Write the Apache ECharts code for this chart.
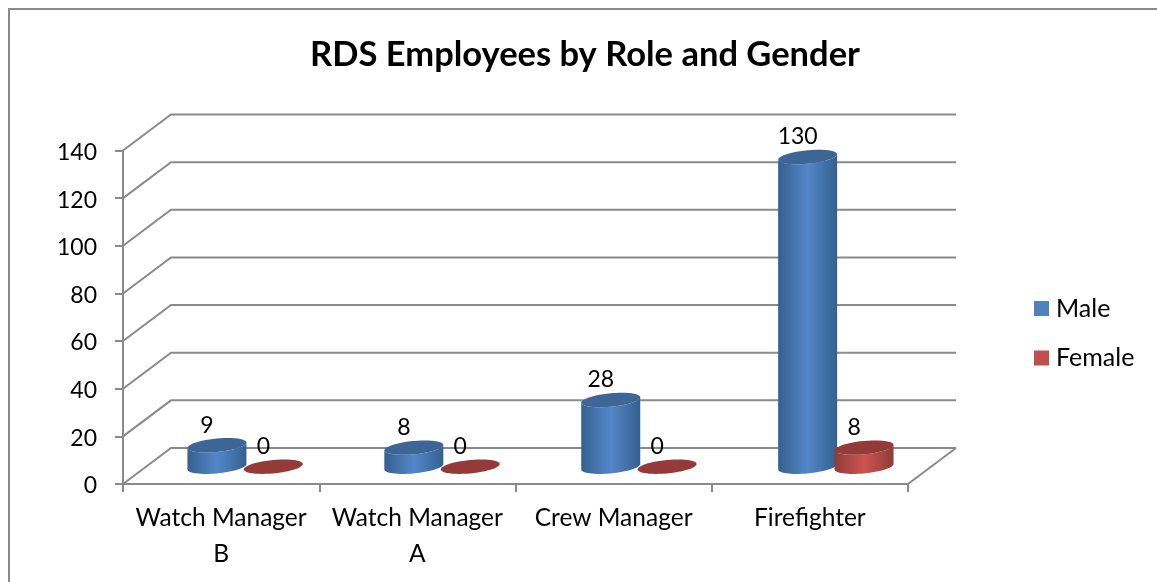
<!DOCTYPE html>
<html><head><meta charset="utf-8">
<style>html,body{margin:0;padding:0;background:#fff}#c{width:1157px;height:582px}</style>
<script src="https://cdn.jsdelivr.net/npm/echarts@6/dist/echarts.min.js"></script>
</head><body><div id="c"></div>
<script>
const categories = ['Watch Manager\nB', 'Watch Manager\nA', 'Crew Manager', 'Firefighter'];
const male = [9, 8, 28, 130];
const female = [0, 0, 0, 8];
const yTicks = [0, 20, 40, 60, 80, 100, 120, 140];

const FONT = 'Lato';
const DX = 48, DY = 36;          // depth of the floor, in pixels
const HALF_DX = 24, HALF_DY = 17.3;
const RX = 29.5, RY = 6.7, SKEW = 2.7;

function ellipsePts(cx, cy, from, to, n) {
  const pts = [];
  for (let i = 0; i <= n; i++) {
    const t = from + (to - from) * i / n;
    pts.push([cx + RX * Math.cos(t), cy + RY * Math.sin(t) - SKEW * Math.cos(t)]);
  }
  return pts;
}
const grad = (edge, mid) => ({type:'linear', x:0, y:0, x2:1, y2:0, colorStops:[
  {offset:0, color:edge},{offset:.5, color:mid},{offset:1, color:edge}]});

function cylinder(side, palette) {
  return function (params, api) {
    const i = api.value(0), v = api.value(1);
    const c0 = api.coord([i, 0]), c1 = api.coord([i, v]);
    const cx = c0[0] + HALF_DX + 0.66 * i + side * 28.2;
    const by = c0[1] - HALF_DY, ty = c1[1] - HALF_DY;
    const children = [];
    if (v > 0) {
      const body = ellipsePts(cx, ty, Math.PI, 0, 24).concat(ellipsePts(cx, by, 0, Math.PI, 32));
      children.push({type:'polygon', shape:{points:body}, style:{fill:grad(palette.edge, palette.mid)}});
    }
    children.push({type:'polygon', shape:{points:ellipsePts(cx, ty, 0, Math.PI*2, 48)},
      style:{fill:palette.top}});
    children.push({type:'text', style:{text:String(v), x:cx-10, y:ty-20, align:'center', verticalAlign:'middle',
      font:'23px '+FONT, fill:'#000'}, z2:10});
    return {type:'group', children};
  };
}

function wall(params, api) {
  const v = api.value(0);
  const cs = params.coordSys;
  const y = api.coord([0, v])[1];
  const x0 = cs.x, x1 = cs.x + cs.width;
  const st = {stroke:'#8a8a8a', lineWidth:2, fill:'none'};
  const children = [{type:'polyline', shape:{points:[[x0,y],[x0+DX,y-DY],[x1+DX,y-DY]]}, style:st}];
  if (v === 0) children.push({type:'line', shape:{x1:x1,y1:y,x2:x1+DX,y2:y-DY}, style:st});
  return {type:'group', children};
}

const chart = echarts.init(document.getElementById('c'), null, {renderer:'canvas'});
chart.setOption({
  animation:false,
  backgroundColor:'#fff',
  title:{text:'RDS Employees by Role and Gender', left:580, top:32, textAlign:'center',
    textStyle:{fontFamily:FONT, fontWeight:'bold', fontSize:34.5, color:'#000'}},
  legend:{orient:'vertical', left:1029, top:291, itemWidth:15, itemHeight:15, itemGap:24.5, icon:'rect',
    data:['Male','Female'], textStyle:{fontFamily:FONT, fontSize:25, color:'#000', padding:[0,0,0,2]}},
  grid:{left:123, right:249, top:150.5, bottom:98},
  xAxis:{type:'category', data:categories,
    axisLine:{lineStyle:{color:'#8a8a8a', width:2}},
    axisTick:{show:true, length:8, lineStyle:{color:'#8a8a8a', width:2}},
    axisLabel:{fontFamily:FONT, fontSize:24.5, color:'#000', margin:16, lineHeight:36, interval:0}},
  yAxis:{type:'value', min:0, max:140, interval:20,
    axisLine:{show:true, lineStyle:{color:'#8a8a8a', width:2}},
    axisTick:{show:true, length:8, lineStyle:{color:'#8a8a8a', width:2}},
    axisLabel:{fontFamily:FONT, fontSize:23, color:'#000', margin:26, verticalAlign:'top', lineHeight:4},
    splitLine:{show:false}},
  graphic:[
    {type:'polyline', shape:{points:[[9,582],[9,9],[1157,9]]}, style:{stroke:'#8a8a8a', lineWidth:2, fill:'none'}}
  ],
  series:[
    {type:'custom', name:'wall', renderItem:wall, data:yTicks.map(v=>[v]), encode:{y:0}, silent:true, z:1},
    {type:'custom', name:'Male', renderItem:cylinder(-1,{edge:'#35608f',mid:'#5487c9',top:'#3d6696'}),
      data:male.map((v,i)=>[i,v]), encode:{x:0,y:1}, itemStyle:{color:'#4f81bd'}, z:2},
    {type:'custom', name:'Female', renderItem:cylinder(1,{edge:'#8f3c3a',mid:'#cc5550',top:'#943a38'}),
      data:female.map((v,i)=>[i,v]), encode:{x:0,y:1}, itemStyle:{color:'#c0504d'}, z:3}
  ]
});
</script></body></html>
